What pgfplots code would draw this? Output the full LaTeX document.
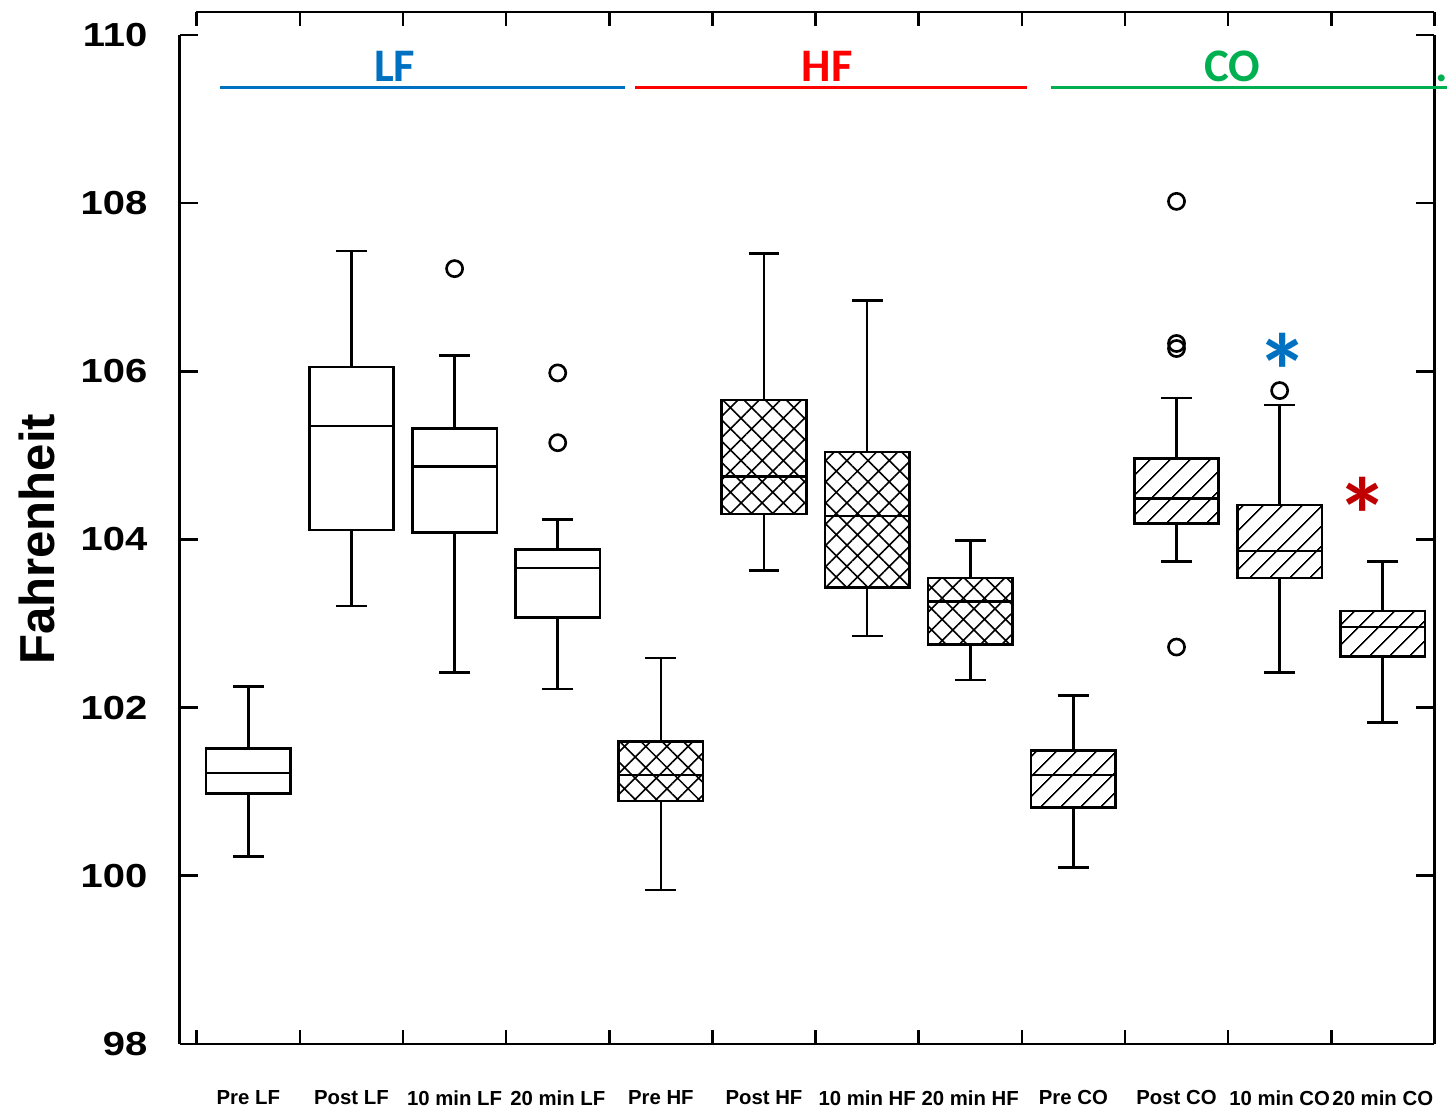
\documentclass[border=0pt]{standalone}
\usepackage{fontspec}
\setmainfont{Liberation Sans}
\newfontfamily\calibri{Carlito}
\newfontfamily\widesans[FakeStretch=1.2]{Liberation Sans}
\usepackage{pgfplots}
\pgfplotsset{compat=1.18}
\usepgfplotslibrary{statistics}
\usetikzlibrary{patterns.meta}
\definecolor{lfblue}{HTML}{0070C0}
\definecolor{hfred}{HTML}{FF0000}
\definecolor{cogreen}{HTML}{00B050}
\definecolor{starred}{HTML}{C00000}

\pgfplotsset{
  bx/.style={black, solid, line width=0.75pt, mark=o, mark size=2.3pt},
  hfbox/.style={bx, boxplot/every box/.append style={pattern={Hatch[angle=45,distance=1.5mm,line width=0.45pt]}}},
  cobox/.style={bx, boxplot/every box/.append style={pattern={Lines[angle=45,distance=1.4mm,line width=0.45pt]}}},
}

\begin{document}
\begin{tikzpicture}
\begin{axis}[
    scale only axis,
    width=125.7mm, height=101.1mm,
    xmin=0.335, xmax=12.5,
    ymin=98, ymax=110,
    clip=false,
    axis x line*=bottom,
    axis y line*=box,
    axis line style={line width=0.75pt},
    tick align=inside,
    major tick length=1.8mm,
    minor tick length=1.4mm,
    every tick/.style={black, line width=0.75pt},
    major x tick style={draw=none},
    xtick={1,...,12},
    minor xtick={0.5,1.5,...,12.5},
    xticklabels={Pre LF, Post LF, 10 min LF, 20 min LF, Pre HF, Post HF, 10 min HF, 20 min HF, Pre CO, Post CO, 10 min CO, 20 min CO},
    xticklabel style={font=\bfseries\fontsize{5.8}{6}\selectfont, yshift=-3.4mm},
    ytick={98,100,...,110},
    yticklabel pos=left,
    yticklabel style={font=\widesans\bfseries\fontsize{9.5}{10}\selectfont, xshift=-2mm},
    /pgf/number format/assume math mode=true,
    ylabel={Fahrenheit},
    every axis y label/.style={at={(axis description cs:-0.1138,0.5)}, rotate=90, anchor=center,
        font=\bfseries\fontsize{14}{16}\selectfont},
    boxplot/draw direction=y,
    boxplot/box extend=0.82,
    boxplot/whisker extend=0.3,
]

% LF
\addplot[bx, boxplot prepared={draw position=1, lower whisker=100.23, lower quartile=100.98, median=101.22, upper quartile=101.51, upper whisker=102.25}] coordinates {};
\addplot[bx, boxplot prepared={draw position=2, lower whisker=103.21, lower quartile=104.11, median=105.35, upper quartile=106.05, upper whisker=107.43}] coordinates {};
\addplot[bx, boxplot prepared={draw position=3, lower whisker=102.42, lower quartile=104.08, median=104.87, upper quartile=105.32, upper whisker=106.19}] table[row sep=\\, y index=0] {y\\ 107.22\\};
\addplot[bx, boxplot prepared={draw position=4, lower whisker=102.22, lower quartile=103.07, median=103.66, upper quartile=103.88, upper whisker=104.24}] table[row sep=\\, y index=0] {y\\ 105.98\\ 105.15\\};

% HF
\addplot[hfbox, boxplot prepared={draw position=5, lower whisker=99.83, lower quartile=100.89, median=101.20, upper quartile=101.60, upper whisker=102.59}] coordinates {};
\addplot[hfbox, boxplot prepared={draw position=6, lower whisker=103.63, lower quartile=104.30, median=104.75, upper quartile=105.66, upper whisker=107.40}] coordinates {};
\addplot[hfbox, boxplot prepared={draw position=7, lower whisker=102.85, lower quartile=103.43, median=104.28, upper quartile=105.04, upper whisker=106.84}] coordinates {};
\addplot[hfbox, boxplot prepared={draw position=8, lower whisker=102.33, lower quartile=102.75, median=103.26, upper quartile=103.54, upper whisker=103.99}] coordinates {};

% CO
\addplot[cobox, boxplot prepared={draw position=9, lower whisker=100.10, lower quartile=100.81, median=101.20, upper quartile=101.49, upper whisker=102.14}] coordinates {};
\addplot[cobox, boxplot prepared={draw position=10, lower whisker=103.74, lower quartile=104.19, median=104.49, upper quartile=104.96, upper whisker=105.68}] table[row sep=\\, y index=0] {y\\ 108.02\\ 106.27\\ 106.33\\ 102.72\\};
\addplot[cobox, boxplot prepared={draw position=11, lower whisker=102.42, lower quartile=103.54, median=103.86, upper quartile=104.41, upper whisker=105.60}] table[row sep=\\, y index=0] {y\\ 105.77\\};
\addplot[cobox, boxplot prepared={draw position=12, lower whisker=101.82, lower quartile=102.61, median=102.96, upper quartile=103.15, upper whisker=103.74}] coordinates {};

% detached top frame line with ticks
\draw[line width=0.75pt] (axis cs:0.49,110.27) -- (axis cs:12.5,110.27);
\pgfplotsinvokeforeach{0.5,1.5,...,12.5}{
  \draw[line width=0.75pt] (axis cs:#1,110.27) -- (axis cs:#1,110.107);
}

% group labels
\draw[lfblue, line width=0.95pt] (axis cs:0.723,109.371) -- (axis cs:4.655,109.371);
\draw[hfred, line width=0.95pt] (axis cs:4.752,109.371) -- (axis cs:8.548,109.371);
\draw[cogreen, line width=0.95pt] (axis cs:8.781,109.371) -- (axis cs:12.626,109.371);
\node[lfblue, font=\calibri\bfseries\fontsize{13.3}{14}\selectfont, anchor=base] at (axis cs:2.418,109.442) {LF};
\node[hfred, font=\calibri\bfseries\fontsize{13.3}{14}\selectfont, anchor=base] at (axis cs:6.611,109.442) {HF};
\node[cogreen, font=\calibri\bfseries\fontsize{13.3}{14}\selectfont, anchor=base] at (axis cs:10.543,109.442) {CO};
\node[cogreen, font=\calibri\bfseries\fontsize{13.3}{14}\selectfont, anchor=base, inner sep=0pt] at (axis cs:12.568,109.442) {.};

% significance marks
\node[lfblue, font=\calibri\bfseries\fontsize{30}{32}\selectfont, inner sep=0pt] at (axis cs:11.028,106.01) {*};
\node[starred, font=\calibri\bfseries\fontsize{30}{32}\selectfont, inner sep=0pt] at (axis cs:11.803,104.29) {*};

% page extent
\path (axis cs:-1.408,97.264) rectangle (axis cs:12.626,110.415);
\end{axis}
\end{tikzpicture}
\end{document}
